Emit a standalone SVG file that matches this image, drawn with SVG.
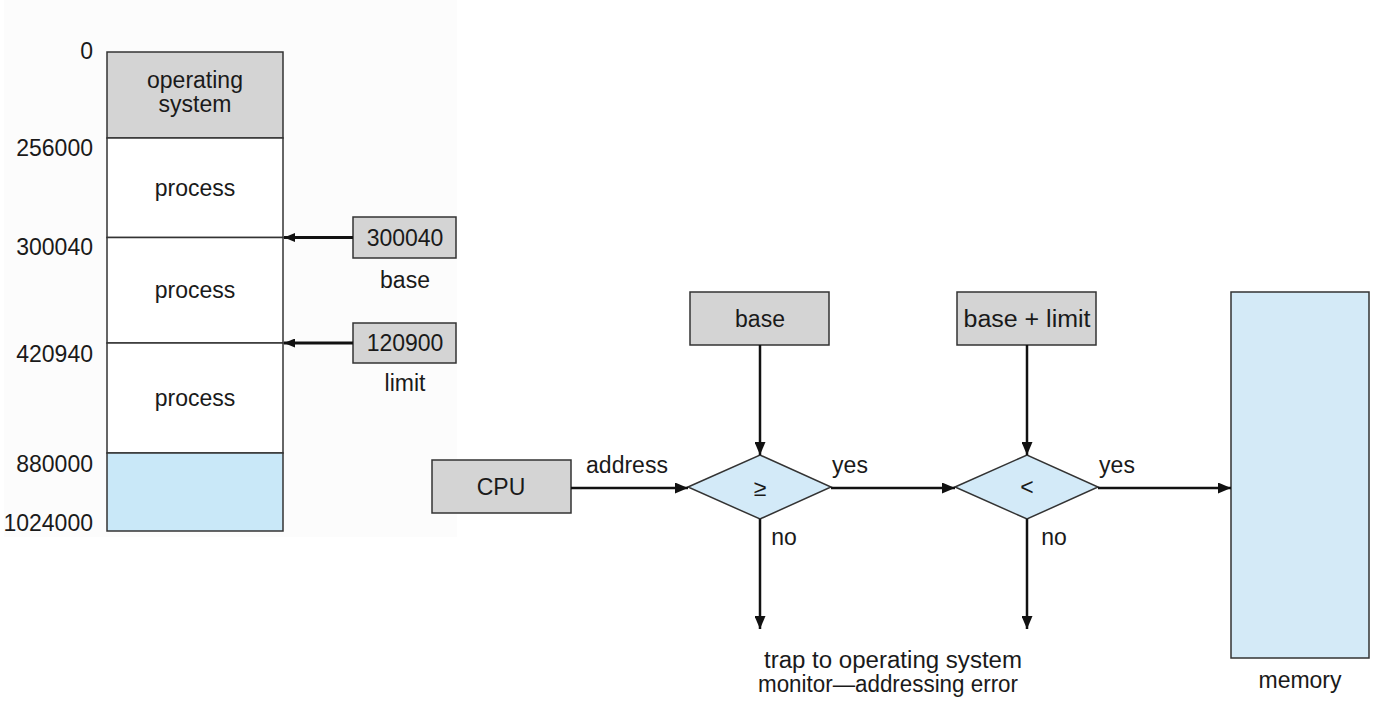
<svg xmlns="http://www.w3.org/2000/svg" width="1382" height="724" viewBox="0 0 1382 724">
  <style>
    text { font-family: "Liberation Sans", Arial, Helvetica, sans-serif; font-size: 23px; fill: #1a1a1a; }
    .c { text-anchor: middle; }
    .r { text-anchor: end; }
    .box { fill: #d4d4d4; stroke: #333; stroke-width: 1.5; }
    .blue { fill: #d3eaf8; stroke: #333; stroke-width: 1.5; }
    .cell { fill: #ffffff; stroke: #333; stroke-width: 1.5; }
    .conn { stroke: #111; stroke-width: 2.5; fill: none; marker-end: url(#arrow); }
    .conn2 { stroke: #111; stroke-width: 3; fill: none; marker-end: url(#arrowSmall); }
  </style>
  <defs>
    <marker id="arrow" markerUnits="userSpaceOnUse" markerWidth="13" markerHeight="11" refX="13" refY="5.5" orient="auto">
      <path d="M0,0 L13,5.5 L0,11 z" fill="#111"/>
    </marker>
    <marker id="arrowSmall" markerUnits="userSpaceOnUse" markerWidth="11" markerHeight="9" refX="11" refY="4.5" orient="auto">
      <path d="M0,0 L11,4.5 L0,9 z" fill="#111"/>
    </marker>
  </defs>
  <rect x="0" y="0" width="1382" height="724" fill="#ffffff"/>
  <rect x="4" y="0" width="453" height="537" fill="#fcfcfc"/>

  <g id="memory-map">
    <rect x="107" y="52" width="176" height="86" class="box"/>
    <rect x="107" y="138" width="176" height="99.5" class="cell"/>
    <rect x="107" y="237.5" width="176" height="105.5" class="cell"/>
    <rect x="107" y="343" width="176" height="110" class="cell"/>
    <rect x="107" y="453" width="176" height="78" fill="#c9e8f8" stroke="#333" stroke-width="1.5"/>
    <text x="195" y="88" class="c">operating</text>
    <text x="195" y="112" class="c">system</text>
    <text x="195" y="196" class="c">process</text>
    <text x="195" y="298" class="c">process</text>
    <text x="195" y="406" class="c">process</text>
    <text x="93" y="59" class="r">0</text>
    <text x="93" y="156" class="r">256000</text>
    <text x="93" y="255" class="r">300040</text>
    <text x="93" y="362" class="r">420940</text>
    <text x="93" y="472" class="r">880000</text>
    <text x="93" y="531" class="r">1024000</text>
  </g>

  <g id="base-register">
    <rect x="353" y="217" width="103" height="41" class="box"/>
    <text x="405" y="246" class="c">300040</text>
    <text x="405" y="288" class="c">base</text>
  </g>

  <g id="limit-register">
    <rect x="353" y="323" width="103" height="40" class="box"/>
    <text x="405" y="351" class="c">120900</text>
    <text x="405" y="391" class="c">limit</text>
  </g>

  <g id="cpu">
    <rect x="432" y="460" width="139" height="53" class="box"/>
    <text x="501" y="495" class="c">CPU</text>
  </g>

  <g id="base">
    <rect x="690" y="292" width="139" height="53" class="box"/>
    <text x="760" y="327" class="c">base</text>
  </g>

  <g id="base-limit">
    <rect x="957" y="292" width="139" height="53" class="box"/>
    <text x="1027" y="327" class="c" textLength="127" lengthAdjust="spacingAndGlyphs">base + limit</text>
  </g>

  <g id="compare-ge">
    <polygon points="688,487 760,455 831,487 760,519" class="blue"/>
    <text x="760" y="496" class="c" font-size="22">≥</text>
  </g>

  <g id="compare-lt">
    <polygon points="955,487 1027,455 1098,487 1027,519" class="blue"/>
    <text x="1027" y="495" class="c" font-size="20">&lt;</text>
  </g>

  <g id="memory">
    <rect x="1231" y="292" width="138" height="366" fill="#d4eaf7" stroke="#333" stroke-width="1.5"/>
    <text x="1300" y="688" class="c">memory</text>
  </g>

  <g id="trap">
    <text x="893" y="668" class="c" font-size="24" textLength="258" lengthAdjust="spacingAndGlyphs">trap to operating system</text>
    <text x="888" y="692" class="c" font-size="24" textLength="260" lengthAdjust="spacingAndGlyphs">monitor—addressing error</text>
  </g>

  <g id="connectors">
    <line x1="353" y1="237.5" x2="284" y2="237.5" class="conn2"/>
    <line x1="353" y1="343" x2="284" y2="343" class="conn2"/>
    <line x1="760" y1="345" x2="760" y2="455" class="conn"/>
    <line x1="1027" y1="345" x2="1027" y2="455" class="conn"/>
    <line x1="571" y1="488" x2="688" y2="488" class="conn"/>
    <line x1="831" y1="488" x2="955" y2="488" class="conn"/>
    <line x1="1098" y1="488" x2="1231" y2="488" class="conn"/>
    <line x1="760" y1="519" x2="760" y2="629" class="conn"/>
    <line x1="1027" y1="519" x2="1027" y2="629" class="conn"/>
    <text x="627" y="473" class="c">address</text>
    <text x="850" y="473" class="c">yes</text>
    <text x="1117" y="473" class="c">yes</text>
    <text x="784" y="545" class="c">no</text>
    <text x="1054" y="545" class="c">no</text>
  </g>
</svg>
